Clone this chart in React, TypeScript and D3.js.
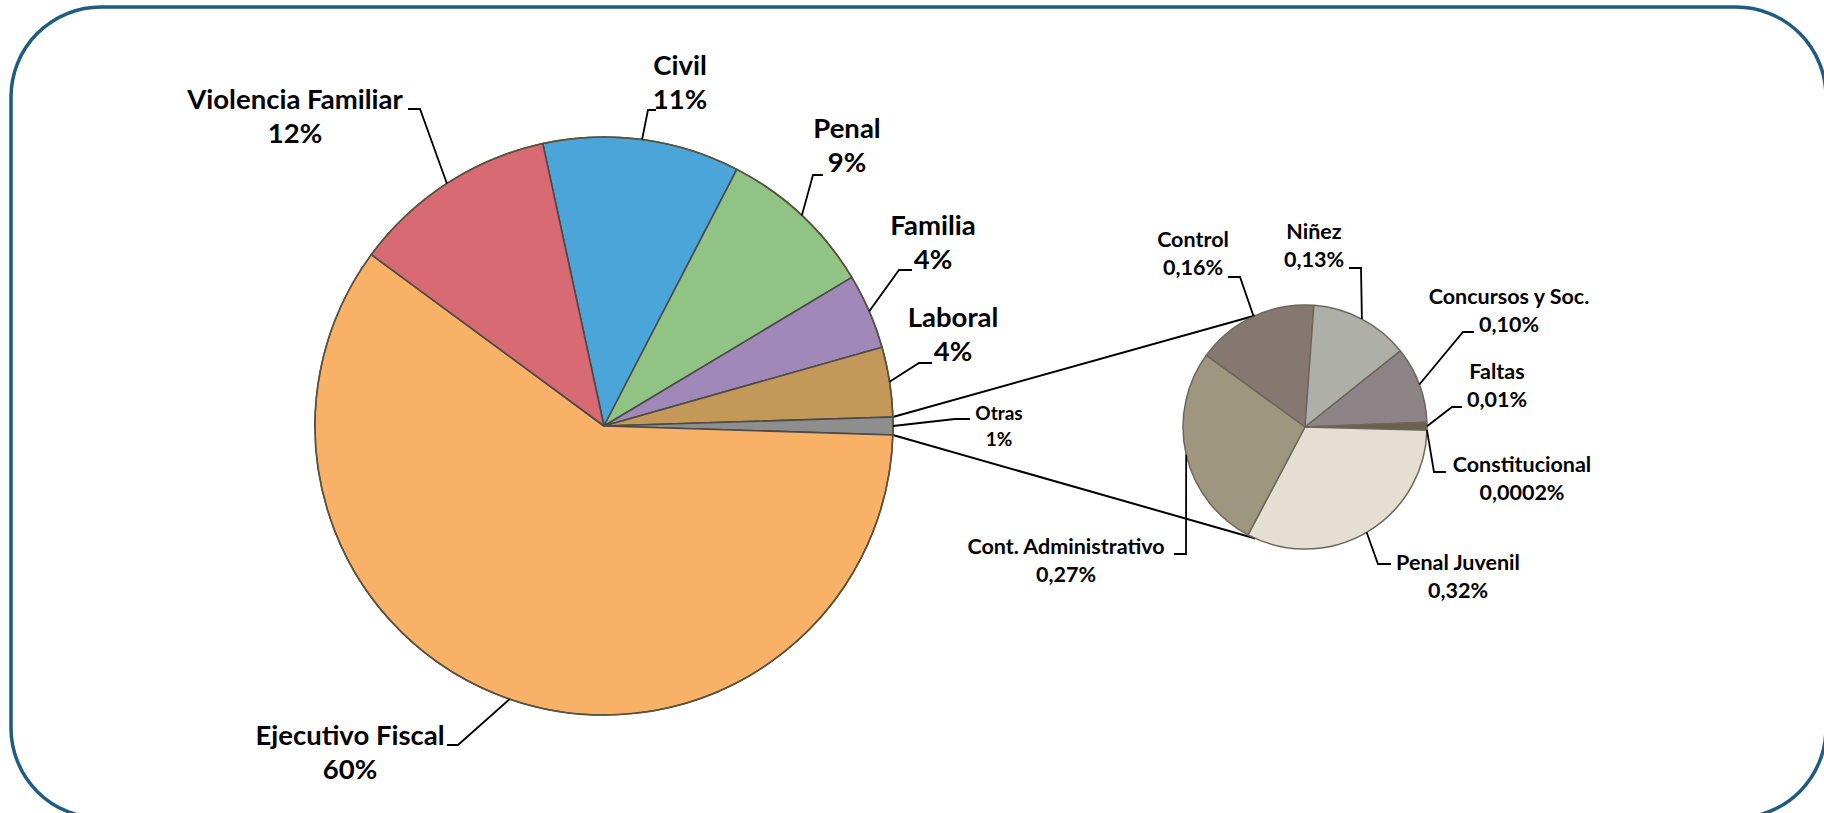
import React from 'react';
import * as d3 from 'd3';

// main pie (percent of total)
const mainCategories = ['Civil', 'Penal', 'Familia', 'Laboral', 'Otras', 'Ejecutivo Fiscal', 'Violencia Familiar'];
const mainValues = [11.0, 8.8, 4.2, 3.9, 0.99, 59.6, 11.5];
const mainColors = ['#4BA5D9', '#91C384', '#A089B8', '#C39858', '#8E8E8E', '#F9B168', '#D86A74'];

// breakdown of "Otras" (percent of total)
const otherCategories = ['Control', 'Niñez', 'Concursos y Soc.', 'Faltas', 'Constitucional', 'Penal Juvenil', 'Cont. Administrativo'];
const otherValues = [0.16, 0.13, 0.10, 0.01, 0.0002, 0.32, 0.27];
const otherColors = ['#857870', '#AEAFA8', '#8C8487', '#6B6048', '#7A6E55', '#E4DED3', '#9E967F'];

const W = 1824, H = 813;
const FONT = 'Lato, "Open Sans", sans-serif';

const main = { cx: 604, cy: 426, r: 289 };
const side = { cx: 1305, cy: 427, r: 122 };
const sideStart = -54; // degrees
const connectorAngles = [-24, 204]; // where the joining lines meet the small pie

// label layout: text centre x, first baseline, elbow, tick end
type Lay = { x: number; y: number; elbow: [number, number]; tick: [number, number] };
const mainLayout: Lay[] = [
  { x: 680, y: 75, elbow: [648, 110], tick: [656, 110] },
  { x: 847, y: 138, elbow: [813, 175], tick: [823, 175] },
  { x: 933, y: 235, elbow: [899, 270], tick: [912, 270] },
  { x: 953, y: 327, elbow: [919, 363], tick: [932, 363] },
  { x: 999, y: 420, elbow: [955, 419], tick: [970, 419] },
  { x: 350, y: 745, elbow: [458, 745], tick: [447, 745] },
  { x: 295, y: 109, elbow: [420, 109], tick: [408, 109] },
];
const otherLayout: Lay[] = [
  { x: 1193, y: 247, elbow: [1240, 277], tick: [1228, 277] },
  { x: 1314, y: 239, elbow: [1361, 268], tick: [1349, 268] },
  { x: 1509, y: 304, elbow: [1463, 332], tick: [1474, 332] },
  { x: 1497, y: 379, elbow: [1452, 407], tick: [1462, 407] },
  { x: 1522, y: 472, elbow: [1434, 472], tick: [1446, 472] },
  { x: 1458, y: 570, elbow: [1378, 564], tick: [1391, 564] },
  { x: 1066, y: 554, elbow: [1186, 554], tick: [1174, 554] },
];

const rad = (d: number) => (d * Math.PI) / 180;
const pt = (c: { cx: number; cy: number }, r: number, a: number): [number, number] => [
  c.cx + r * Math.sin(a),
  c.cy - r * Math.cos(a),
];

const fmtOther = (v: number) => (v >= 0.01 ? v.toFixed(2) : v.toFixed(4)).replace('.', ',') + '%';

export default function App() {
  // rotate main pie so that "Otras" is centred at 3 o'clock
  const total = d3.sum(mainValues);
  const before = d3.sum(mainValues.slice(0, 4)) + mainValues[4] / 2;
  const mainStart = Math.PI / 2 - (before / total) * 2 * Math.PI;

  const mainArcs = d3.pie<number>().sort(null).startAngle(mainStart).endAngle(mainStart + 2 * Math.PI)(mainValues);
  const sideArcs = d3
    .pie<number>()
    .sort(null)
    .startAngle(rad(sideStart))
    .endAngle(rad(sideStart) + 2 * Math.PI)(otherValues);

  const mainArc = d3.arc<d3.PieArcDatum<number>>().innerRadius(0).outerRadius(main.r);
  const sideArc = d3.arc<d3.PieArcDatum<number>>().innerRadius(0).outerRadius(side.r);

  const otras = mainArcs[4];
  const c1a = pt(main, main.r, otras.startAngle);
  const c1b = pt(side, side.r, rad(connectorAngles[0]));
  const c2a = pt(main, main.r, otras.endAngle);
  const c2b = pt(side, side.r, rad(connectorAngles[1]));

  const line = d3.line();

  const renderLabel = (
    key: string,
    c: { cx: number; cy: number },
    r: number,
    a: d3.PieArcDatum<number>,
    lay: Lay,
    name: string,
    pct: string,
    size: number,
    gap: number
  ) => {
    const mid = (a.startAngle + a.endAngle) / 2;
    const p0 = pt(c, r, mid);
    return (
      <g key={key}>
        <path d={line([p0, lay.elbow, lay.tick]) || ''} fill="none" stroke="#000" strokeWidth={1.8} />
        <text x={lay.x} y={lay.y} textAnchor="middle" fontSize={size} fontWeight="bold" fontFamily={FONT}>
          {name}
        </text>
        <text x={lay.x} y={lay.y + gap} textAnchor="middle" fontSize={size} fontWeight="bold" fontFamily={FONT}>
          {pct}
        </text>
      </g>
    );
  };

  return (
    <svg width={W} height={H} style={{ position: 'absolute', left: 0, top: 0, background: '#fff' }}>
      <rect x={11} y={7} width={1815} height={811} rx={90} ry={90} fill="#fff" stroke="#1F5C80" strokeWidth={3.5} />

      {/* joining lines */}
      <path d={line([c1a, c1b]) || ''} stroke="#000" strokeWidth={2} fill="none" />
      <path d={line([c2a, c2b]) || ''} stroke="#000" strokeWidth={2} fill="none" />

      <g transform={`translate(${main.cx},${main.cy})`}>
        {mainArcs.map((a, i) => (
          <path key={i} d={mainArc(a) || ''} fill={mainColors[i]} stroke="#4A4A4A" strokeWidth={1.6} strokeLinejoin="round" />
        ))}
        <circle r={main.r} fill="none" stroke="#5E5238" strokeWidth={1.4} />
      </g>
      <g transform={`translate(${side.cx},${side.cy})`}>
        {sideArcs.map((a, i) => (
          <path key={i} d={sideArc(a) || ''} fill={otherColors[i]} stroke="#6E665A" strokeWidth={1.5} strokeLinejoin="round" />
        ))}
      </g>

      {mainArcs.map((a, i) =>
        renderLabel(
          'm' + i,
          main,
          main.r,
          a,
          mainLayout[i],
          mainCategories[i],
          Math.round(mainValues[i]) + '%',
          i === 4 ? 19 : 27.5,
          i === 4 ? 26 : 34
        )
      )}
      {sideArcs.map((a, i) =>
        renderLabel('s' + i, side, side.r, a, otherLayout[i], otherCategories[i], fmtOther(otherValues[i]), 21.5, 28)
      )}
    </svg>
  );
}
